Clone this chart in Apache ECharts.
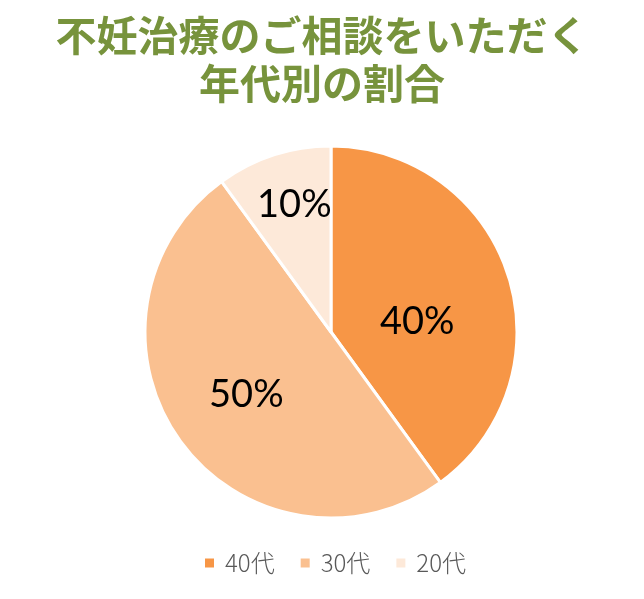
<!DOCTYPE html>
<html><head><meta charset="utf-8">
<script src="https://cdn.jsdelivr.net/npm/echarts@6/dist/echarts.min.js"></script>
<style>html,body{margin:0;padding:0;background:#fff}#c{width:644px;height:599px}</style>
</head><body><div id="c"></div>
<script>
const titleText = '不妊治療のご相談をいただく\n年代別の割合';
const categories = ['40代', '30代', '20代'];
const values = [40, 50, 10];
const colors = ['#F79646', '#FAC090', '#FDE9D9'];
const labelOffsets = [[-5, 19], [-7, 6], [-7, -36]];

const chart = echarts.init(document.getElementById('c'));
chart.setOption({
  backgroundColor: '#fff',
  animation: false,
  title: {
    text: titleText, left: 'center', top: 6,
    textStyle: { color: '#77933C', fontSize: 41, fontWeight: 'bold', lineHeight: 48,
      fontFamily: '"Noto Sans CJK JP"' }
  },
  legend: {
    top: 546, left: 198, itemWidth: 11, itemHeight: 11, itemGap: 24, icon: 'rect',
    textStyle: { color: '#595959', fontSize: 24, fontWeight: 300, lineHeight: 24,
      padding: [0, 0, 0, 5], fontFamily: '"Noto Sans CJK JP"' },
    data: categories
  },
  series: [{
    type: 'pie', center: [331, 332], radius: [0, 186], startAngle: 90, clockwise: true,
    itemStyle: { borderColor: '#fff', borderWidth: 3 },
    label: { position: 'inside', formatter: '{d}%', color: '#000', fontSize: 38,
      fontFamily: 'Lato, "Noto Sans CJK JP"' },
    labelLine: { show: false },
    data: categories.map((n, i) => ({ name: n, value: values[i], itemStyle: { color: colors[i] },
      label: { offset: labelOffsets[i] } }))
  }]
});
</script></body></html>
